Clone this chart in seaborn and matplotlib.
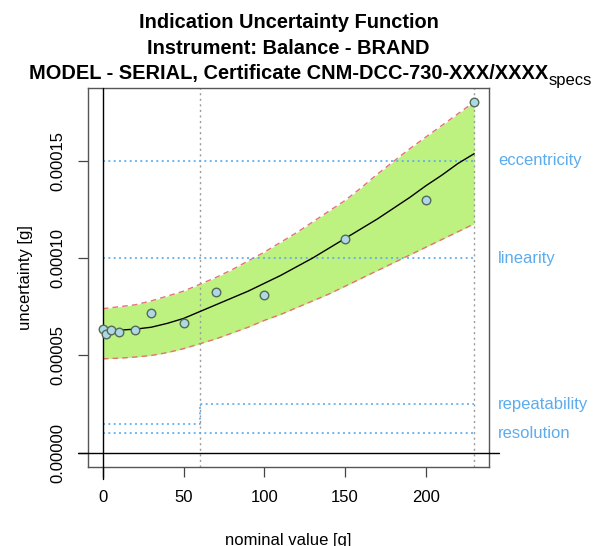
import numpy as np
import pandas as pd
import matplotlib
matplotlib.use('Agg')
import matplotlib.pyplot as plt
import seaborn as sns

# punti di taratura (valore nominale in g, incertezza in unita di 1e-5 g)
nominal = [0, 2, 5, 10, 20, 30, 50, 70, 100, 150, 200, 230]
uncert = [6.38, 6.09, 6.31, 6.2, 6.31, 7.18, 6.69, 8.28, 8.08, 11.0, 13.0, 18.0]

# funzione di incertezza e banda (1e-5 g)
grid = [0, 10, 20, 30, 40, 50, 60, 70, 80, 90, 100, 110,
        120, 130, 140, 150, 160, 170, 180, 190, 200, 210, 220, 230]
fit = [6.3, 6.3, 6.35, 6.45, 6.65, 6.9, 7.25, 7.6, 7.95, 8.3, 8.7, 9.1,
       9.55, 10.0, 10.5, 11.0, 11.5, 12.0, 12.55, 13.1, 13.7, 14.25, 14.85, 15.35]
upper = [7.4, 7.5, 7.6, 7.8, 8.05, 8.3, 8.65, 9.0, 9.4, 9.85, 10.3, 10.8,
         11.3, 11.85, 12.4, 12.95, 13.6, 14.3, 14.95, 15.6, 16.2, 16.8, 17.4, 18.0]
lower = [4.83, 4.86, 4.92, 5.0, 5.15, 5.35, 5.6, 5.85, 6.15, 6.45, 6.8, 7.1,
         7.45, 7.8, 8.15, 8.55, 8.95, 9.35, 9.75, 10.15, 10.55, 10.95, 11.35, 11.75]

# specifiche dello strumento (1e-5 g)
spec_names = ['eccentricity', 'linearity', 'repeatability', 'resolution']
spec_vals = [15.0, 10.0, 2.5, 1.0]
rep_x = [0, 60, 60, 230]
rep_y = [1.5, 1.5, 2.5, 2.5]
range_lines = [60, 230]

title_lines = ['Indication Uncertainty Function',
               'Instrument: Balance - BRAND',
               'MODEL - SERIAL, Certificate CNM-DCC-730-XXX/XXXX']

sc = 1e-5
pts = pd.DataFrame({'nominal': nominal, 'u': np.array(uncert) * sc})
curve = pd.DataFrame({'x': grid, 'fit': np.array(fit) * sc,
                      'up': np.array(upper) * sc, 'lo': np.array(lower) * sc})

sns.set_style('white')
plt.rcParams['font.family'] = ['Liberation Sans', 'DejaVu Sans']
plt.rcParams['text.color'] = 'black'
plt.rcParams['axes.labelcolor'] = 'black'
plt.rcParams['xtick.color'] = 'black'
plt.rcParams['ytick.color'] = 'black'

fig = plt.figure(figsize=(5.95, 5.46), dpi=100)
ax = fig.add_axes([88 / 595, 1 - 467 / 546, 401 / 595, 379 / 546])

blue = '#5cacee'
ax.fill_between(curve['x'], curve['lo'], curve['up'], color='#bef280', lw=0, zorder=1)
ax.plot(curve['x'], curve['up'], color='#e8707a', lw=1, ls=(0, (4, 3)), zorder=2)
ax.plot(curve['x'], curve['lo'], color='#e8707a', lw=1, ls=(0, (4, 3)), zorder=2)
sns.lineplot(data=curve, x='x', y='fit', color='black', lw=1, ax=ax, zorder=3)

for xv in range_lines:
    ax.axvline(xv, color='#9a9a9a', lw=1, ls=(0, (1.5, 2.5)), zorder=2)

# linee delle specifiche
ax.plot([0, 230], [spec_vals[0] * sc] * 2, color=blue, lw=1.2, ls=(0, (1.2, 2)), zorder=2)
ax.plot([0, 230], [spec_vals[1] * sc] * 2, color=blue, lw=1.2, ls=(0, (1.2, 2)), zorder=2)
ax.plot(rep_x, np.array(rep_y) * sc, color=blue, lw=1.2, ls=(0, (1.2, 2)), zorder=2)
ax.plot([0, 230], [spec_vals[3] * sc] * 2, color=blue, lw=1.2, ls=(0, (1.2, 2)), zorder=2)
for name, v in zip(spec_names, spec_vals):
    ax.text(1.022, v * sc, name, color=blue, fontsize=12, va='center', ha='left',
            transform=ax.get_yaxis_transform())

# assi in zero
ax.plot([-15.5, 245.5], [0, 0], color='black', lw=1, clip_on=False, zorder=4)
ax.plot([0, 0], [-0.0000135, 0.0001872], color='black', lw=1, clip_on=False, zorder=4)

sns.scatterplot(data=pts, x='nominal', y='u', s=38, color='#add8e6',
                edgecolor='#566a56', linewidth=1, ax=ax, zorder=5, clip_on=False)

ax.set_xlim(-9.2, 239.2)
ax.set_ylim(-0.0000072, 0.0001872)
ax.set_xticks([0, 50, 100, 150, 200])
ax.set_yticks([0, 0.00005, 0.0001, 0.00015])
ax.set_yticklabels(['0.00000', '0.00005', '0.00010', '0.00015'])
ax.tick_params(direction='out', length=7.2, width=0.9, color='#444444',
               labelsize=12, pad=9, bottom=True, left=True)
for lab in ax.get_yticklabels():
    lab.set_rotation(90)
    lab.set_va('center')
for sp in ax.spines.values():
    sp.set_color('#555555')
    sp.set_linewidth(1)

ax.set_xlabel('')
ax.set_ylabel('uncertainty [g]', fontsize=12)
ax.yaxis.set_label_coords((33 - 88) / 401, 0.5)
fig.text(288.5 / 595, 1 - 540 / 546, 'nominal value [g]', fontsize=12,
         ha='center', va='center')

for i, line in enumerate(title_lines):
    fig.text(288.5 / 595, 1 - (23 + 25 * i) / 546, line, fontsize=14.4,
             fontweight='bold', ha='center', va='center')
fig.text(549 / 595, 1 - 81 / 546, 'specs', fontsize=12, ha='left', va='center')

fig.savefig('out.png', dpi=100)
